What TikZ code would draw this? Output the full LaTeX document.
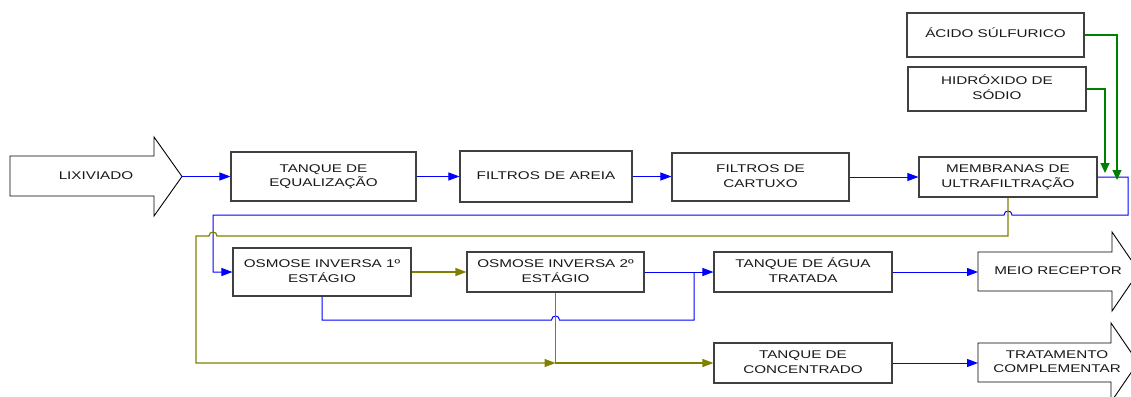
\documentclass[tikz,border=0pt]{standalone}
\usepackage{fontspec}
\setmainfont{Liberation Sans}
\usepackage{graphicx}
\usetikzlibrary{arrows.meta}
\definecolor{flowblue}{RGB}{0,0,255}
\definecolor{flowolive}{RGB}{128,128,0}
\definecolor{flowgreen}{RGB}{0,128,0}
\definecolor{boxgray}{RGB}{64,64,64}
\definecolor{txtc}{RGB}{25,25,25}
\newcommand\wlbl[1]{\scalebox{1.36}[1]{\begin{tabular}{@{}c@{}}#1\end{tabular}}}
\tikzset{
  box/.style={draw=boxgray, line width=1.1pt, fill=white, inner sep=0pt, text=txtc,
    font=\fontsize{11.2}{14.3}\selectfont},
  lbl/.style={inner sep=0pt, text=txtc, font=\fontsize{11.2}{14.3}\selectfont},
  bflow/.style={draw=flowblue, line width=1pt},
  oflow/.style={draw=flowolive, line width=1.2pt},
  gflow/.style={draw=flowgreen, line width=1.2pt},
  tipb/.style={-{Triangle[length=11pt,width=8pt,fill=flowblue]}},
  tipo/.style={-{Triangle[length=11pt,width=8pt,fill=flowolive]}},
  tipg/.style={-{Triangle[length=10pt,width=9pt,fill=flowgreen]}},
  bigarrow/.style={draw=black, line width=0.9pt, fill=white, line join=miter},
}
\begin{document}
\begin{tikzpicture}[x=1pt,y=-1pt]
\useasboundingbox (0,0) rectangle (1131,396);
\fill[white] (0,0) rectangle (1131,396);
\clip (0,0) rectangle (1131,396);

% big arrows
\draw[bigarrow] (10,156) -- (154,156) -- (154,137) -- (182,176.5) -- (154,216) -- (154,196) -- (10,196) -- cycle;
\node[lbl] (lix) at (96,176.5) {\wlbl{LIXIVIADO}};
\coordinate (lixtip) at (182,176.5);

\draw[bigarrow] (978,252) -- (1112,252) -- (1112,232) -- (1139,271.5) -- (1112,311) -- (1112,291) -- (978,291) -- cycle;
\node[lbl] (meio) at (1058,271.5) {\wlbl{MEIO RECEPTOR}};
\coordinate (meiotail) at (978,272);

\draw[bigarrow] (978,343) -- (1111,343) -- (1111,323) -- (1138,362.5) -- (1111,402) -- (1111,382) -- (978,382) -- cycle;
\node[lbl] (trat) at (1057,362.5) {\wlbl{TRATAMENTO\\COMPLEMENTAR}};
\coordinate (trattail) at (978,363);

% boxes
\node[box, minimum width=185pt, minimum height=49pt] (eq) at (323.5,176.5) {\wlbl{TANQUE DE\\EQUALIZAÇÃO}};
\node[box, minimum width=172pt, minimum height=51pt] (areia) at (546,176.5) {\wlbl{FILTROS DE AREIA}};
\node[box, minimum width=177pt, minimum height=48pt] (cart) at (760.5,177) {\wlbl{FILTROS DE\\CARTUXO}};
\node[box, minimum width=178pt, minimum height=40pt] (memb) at (1008,177) {\wlbl{MEMBRANAS DE\\ULTRAFILTRAÇÃO}};
\node[box, minimum width=177pt, minimum height=44pt] (acido) at (995.5,35) {\wlbl{ÁCIDO SÚLFURICO}};
\node[box, minimum width=178pt, minimum height=44pt] (hidrox) at (997,89) {\wlbl{HIDRÓXIDO DE\\SÓDIO}};
\node[box, minimum width=178pt, minimum height=48pt] (os1) at (322,272) {\wlbl{OSMOSE INVERSA 1º\\ESTÁGIO}};
\node[box, minimum width=177pt, minimum height=40pt] (os2) at (555.5,272) {\wlbl{OSMOSE INVERSA 2º\\ESTÁGIO}};
\node[box, minimum width=178pt, minimum height=40pt] (agua) at (803,272) {\wlbl{TANQUE DE ÁGUA\\TRATADA}};
\node[box, minimum width=178pt, minimum height=40pt] (conc) at (803,363) {\wlbl{TANQUE DE\\CONCENTRADO}};

\coordinate (j) at (os2.south |- conc.west);
\coordinate (gin1) at (1117,180);
\coordinate (gin2) at (1105,173);

% blue main line
\draw[bflow,tipb] (lixtip) -- (eq.west);
\draw[bflow,tipb] (eq.east) -- (areia.west);
\draw[bflow,tipb] (areia.east) -- (areia.east -| cart.west);
\draw[bflow,tipb] (cart.east) -- (memb.west);
\draw[bflow,tipb] (memb.east) -- (1128,177) -- (1128,215) -- (1012,215)
  .. controls (1012,209.7) and (1004,209.7) .. (1004,215) -- (213,215) -- (213,272) -- (os1.west);
\draw[bflow,tipb] (os2.east) -- (agua.west);
\draw[bflow] (os1.south) -- (322,320) -- (551.5,320)
  .. controls (551.5,314.7) and (559.5,314.7) .. (559.5,320) -- (694,320) -- (694,272);
\draw[bflow,tipb] (agua.east) -- (meiotail);
\draw[bflow,tipb] (conc.east) -- (trattail);

% olive lines
\draw[oflow,tipo] (memb.south) -- (1008,236) -- (217,236)
  .. controls (217,230.7) and (209,230.7) .. (209,236) -- (196,236) -- (196,363) -- (j);
\draw[oflow,tipo] (os1.east) -- (os2.west);
\draw[oflow,tipo] (os2.south) -- (j) -- (conc.west);

% green lines
\draw[gflow,tipg] (acido.east) -- (1117,35) -- (gin1);
\draw[gflow,tipg] (hidrox.east) -- (1105,89) -- (gin2);
\end{tikzpicture}
\end{document}
